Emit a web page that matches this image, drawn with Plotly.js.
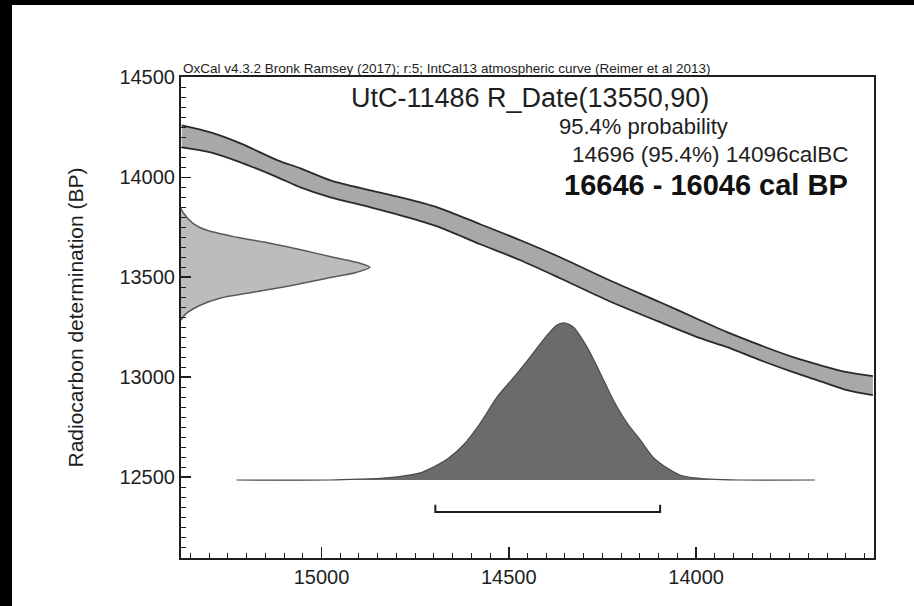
<!DOCTYPE html>
<html>
<head>
<meta charset="utf-8">
<script src="https://cdn.plot.ly/plotly-3.0.1.min.js"></script>
<style>
  html, body { margin: 0; padding: 0; background: #000; width: 914px; height: 606px; overflow: hidden; }
  #chart { position: absolute; left: 12px; top: 5px; width: 902px; height: 601px; background: #fff; }
</style>
</head>
<body>
<div id="chart"></div>
<script>
// ---- Calibration curve (IntCal13 band), x in cal BC, y in BP ----
const curveBC      = [15373, 15296, 15216, 15117, 15056, 14976, 14869, 14789, 14691, 14576, 14469, 14363, 14237, 14096, 13989, 13917, 13829, 13741, 13669, 13597, 13528];
const curveUpperBP = [14260, 14225, 14170, 14085, 14045, 13985, 13935, 13900, 13850, 13765, 13685, 13600, 13490, 13375, 13285, 13225, 13160, 13100, 13060, 13025, 13005];
const curveLowerBP = [14150, 14125, 14075, 14000, 13950, 13900, 13850, 13810, 13755, 13665, 13585, 13495, 13385, 13275, 13195, 13150, 13085, 13025, 12980, 12935, 12910];

// ---- Radiocarbon date distribution R_Date(13550,90) (relative probability) ----
const rdBP   = [13845, 13825, 13770, 13735, 13700, 13670, 13635, 13600, 13570, 13550, 13525, 13495, 13460, 13425, 13395, 13360, 13325, 13300, 13285];
const rdProb = [0,     0.01,  0.063, 0.138, 0.296, 0.471, 0.646, 0.804, 0.947, 1.0,   0.931, 0.772, 0.593, 0.381, 0.206, 0.101, 0.037, 0.01,  0];

// ---- Calibrated date distribution (relative probability) ----
const calDistBC   = [15227, 14976, 14896, 14843, 14797, 14736, 14701, 14664, 14621, 14576, 14531, 14488, 14443, 14397, 14371, 14349, 14328, 14291, 14256, 14221, 14184, 14149, 14115, 14077, 14043, 14003, 13963, 13883, 13683];
const calDistProb = [0,     0,     0.005, 0.01,  0.02,  0.045, 0.083, 0.134, 0.223, 0.363, 0.529, 0.65,  0.783, 0.924, 0.987, 1.0,   0.975, 0.847, 0.682, 0.51,  0.363, 0.255, 0.146, 0.076, 0.032, 0.013, 0.005, 0,     0];

// ---- 95.4% range ----
const rangeStartBC = 14696;
const rangeEndBC   = 14096;

// ---- Ticks ----
const xTickVals = [15000, 14500, 14000];
const xTickText = ['15000', '14500', '14000'];
const yTickVals = [12500, 13000, 13500, 14000, 14500];
const yTickText = ['12500', '13000', '13500', '14000', '14500'];

// ---- Texts ----
const headerText = 'OxCal v4.3.2 Bronk Ramsey (2017); r:5; IntCal13 atmospheric curve (Reimer et al 2013)';
const sampleText = 'UtC-11486 R_Date(13550,90)';
const probText   = '95.4% probability';
const rangeText  = '14696 (95.4%) 14096calBC';
const bpText     = '16646 - 16046 cal BP';
const yTitleText = 'Radiocarbon determination (BP)';

const FONT = 'Liberation Sans, Arial, Helvetica, sans-serif';
const INK = '#1e1e1e';

// bar vertical placement (in BP units of the y axis)
const barY = 12325, barCapY = 12362;

const traces = [
  { x: curveBC, y: curveLowerBP, mode: 'lines', line: { color: '#2a2a2a', width: 1.8, shape: 'spline', smoothing: 0.8 }, hoverinfo: 'skip', showlegend: false },
  { x: curveBC, y: curveUpperBP, mode: 'lines', fill: 'tonexty', fillcolor: '#a8a8a8', line: { color: '#2a2a2a', width: 1.8, shape: 'spline', smoothing: 0.8 }, hoverinfo: 'skip', showlegend: false },
  { x: rdProb, y: rdBP, xaxis: 'x2', yaxis: 'y', mode: 'lines', fill: 'tozerox', fillcolor: '#bcbcbc', line: { color: '#5a5a5a', width: 1.5, shape: 'spline', smoothing: 0.8 }, hoverinfo: 'skip', showlegend: false },
  { x: calDistBC, y: calDistProb, xaxis: 'x', yaxis: 'y2', mode: 'lines', fill: 'tozeroy', fillcolor: '#6b6b6b', line: { color: '#4a4a4a', width: 1.2, shape: 'spline', smoothing: 0.8 }, hoverinfo: 'skip', showlegend: false },
  { x: [rangeStartBC, rangeStartBC, rangeEndBC, rangeEndBC], y: [barCapY, barY, barY, barCapY], mode: 'lines', line: { color: '#1e1e1e', width: 2 }, hoverinfo: 'skip', showlegend: false }
];

const W = 902, H = 601;
const layout = {
  width: W, height: H,
  margin: { l: 169, r: 40, t: 72, b: 48, pad: 0 },
  paper_bgcolor: '#fff', plot_bgcolor: '#fff',
  font: { family: FONT, color: INK },
  xaxis: {
    range: [15375, 13525],
    tickmode: 'array', tickvals: xTickVals, ticktext: xTickText,
    ticks: 'inside', ticklen: 11, tickwidth: 1.5, tickcolor: INK,
    minor: { dtick: 50, tick0: 0, ticks: 'inside', ticklen: 5, tickwidth: 1, tickcolor: INK, showgrid: false },
    showgrid: false, zeroline: false,
    showline: true, linecolor: INK, linewidth: 2, mirror: true,
    tickfont: { size: 20, family: FONT, color: INK }
  },
  yaxis: {
    range: [12095, 14502],
    tickmode: 'array', tickvals: yTickVals, ticktext: yTickText,
    ticks: 'inside', ticklen: 10, tickwidth: 1.5, tickcolor: INK,
    minor: { dtick: 50, tick0: 0, ticks: 'inside', ticklen: 5, tickwidth: 1, tickcolor: INK, showgrid: false },
    showgrid: false, zeroline: false,
    showline: true, linecolor: INK, linewidth: 2, mirror: true,
    tickfont: { size: 20, family: FONT, color: INK },
    title: { text: yTitleText, font: { size: 21, family: FONT, color: INK }, standoff: 30 }
  },
  xaxis2: { overlaying: 'x', range: [0, 3.667], visible: false, side: 'top' },
  yaxis2: { overlaying: 'y', range: [-0.4968, 2.567], visible: false, side: 'right' },
  annotations: [
    { text: headerText, xref: 'paper', yref: 'paper', x: 0.0, y: 1.018, xanchor: 'left', yanchor: 'middle', showarrow: false, font: { size: 13.5, family: FONT, color: INK } },
    { text: sampleText, xref: 'paper', yref: 'paper', x: 0.763, y: 0.956, xanchor: 'right', yanchor: 'middle', borderpad: 0, showarrow: false, font: { size: 27, family: FONT, color: INK } },
    { text: probText, xref: 'paper', yref: 'paper', x: 0.791, y: 0.898, xanchor: 'right', yanchor: 'middle', borderpad: 0, showarrow: false, font: { size: 22, family: FONT, color: INK } },
    { text: rangeText, xref: 'paper', yref: 'paper', x: 0.964, y: 0.838, xanchor: 'right', yanchor: 'middle', borderpad: 0, showarrow: false, font: { size: 22.5, family: FONT, color: INK } },
    { text: '<b>' + bpText + '</b>', xref: 'paper', yref: 'paper', x: 0.964, y: 0.7765, xanchor: 'right', yanchor: 'middle', borderpad: 0, showarrow: false, font: { size: 29, family: FONT, color: '#111' } }
  ]
};

Plotly.newPlot('chart', traces, layout, { staticPlot: true, displayModeBar: false });
</script>
</body>
</html>
